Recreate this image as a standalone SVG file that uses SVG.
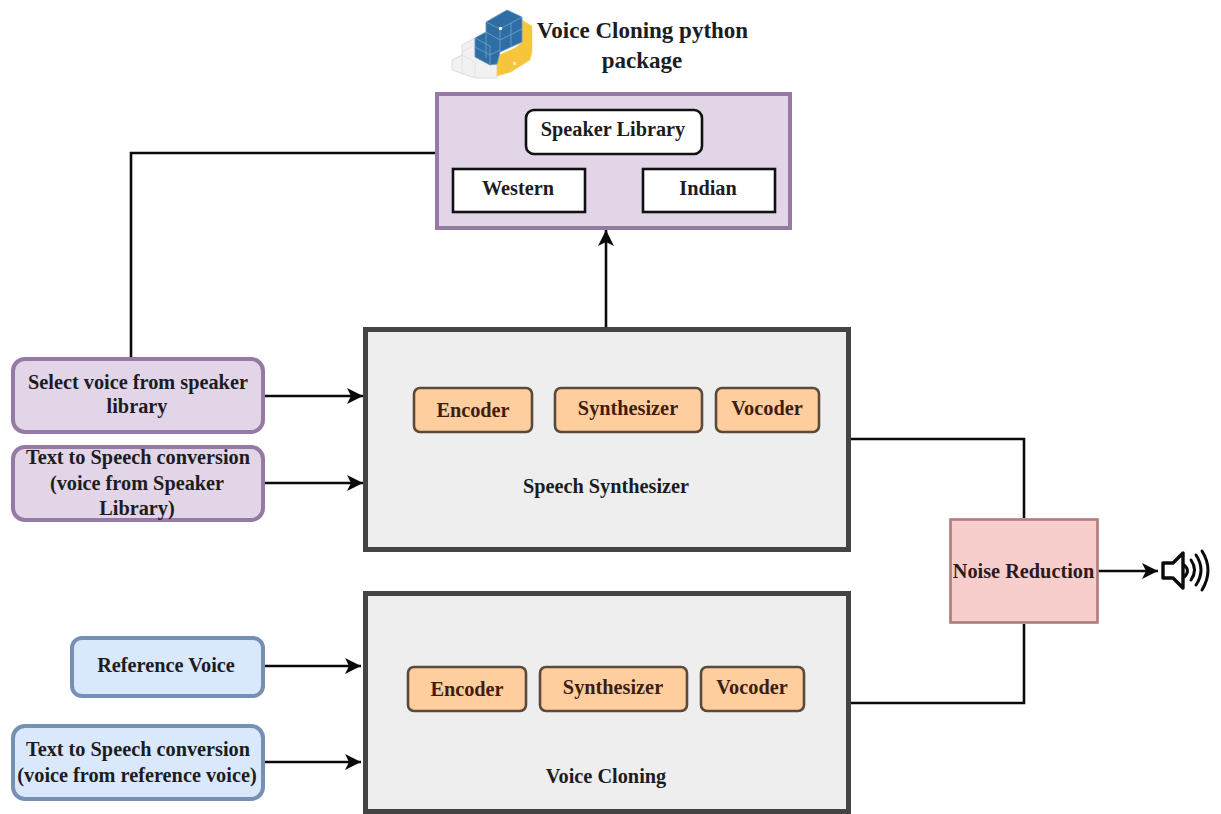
<svg xmlns="http://www.w3.org/2000/svg" width="1221" height="814" viewBox="0 0 1221 814">
<style>
text{font-family:"Liberation Serif","Times New Roman",serif;font-weight:bold;font-size:20.3px;fill:#1c1c22;text-anchor:middle}
.conn{fill:none;stroke:#0a0a0a;stroke-width:2.6}
.purple{fill:#e1d5e7;stroke:#957aa5;stroke-width:4}
.blue{fill:#dae8fc;stroke:#7590b2;stroke-width:4}
.box{fill:#eeeeee;stroke:#444444;stroke-width:5}
.block{fill:#ffce9f;stroke:#5a4a3a;stroke-width:2.6}
.white{fill:#ffffff;stroke:#111111;stroke-width:2.6}
.org{fill:#3f1d10}
.g{fill:#f1f1f1;stroke:#dcdcdc;stroke-width:1}
.b{fill:#2f6ea5;stroke:#5f97c0;stroke-width:.8}
.bl{fill:none;stroke:#6fa3c9;stroke-width:.8}
.y{fill:#f5c63c;stroke:#f5d36a;stroke-width:.6}
</style>
<defs>
<marker id="arrow" markerUnits="userSpaceOnUse" markerWidth="20" markerHeight="20" refX="17" refY="10" orient="auto">
<path d="M1 2 L17 10 L1 18 L5 10 Z" fill="#0a0a0a"/>
</marker>
</defs>
<rect width="1221" height="814" fill="#ffffff"/>
<g id="connectors">
<path class="conn" d="M437 153H131V357"/>
<path class="conn" d="M606 327V230" marker-end="url(#arrow)"/>
<path class="conn" d="M264 396H363" marker-end="url(#arrow)"/>
<path class="conn" d="M264 483H363" marker-end="url(#arrow)"/>
<path class="conn" d="M264 666H361" marker-end="url(#arrow)"/>
<path class="conn" d="M264 762H361" marker-end="url(#arrow)"/>
<path class="conn" d="M851 439H1024V518"/>
<path class="conn" d="M851 703H1024V624"/>
<path class="conn" d="M1098 571H1158" marker-end="url(#arrow)"/>
</g>
<g id="python-logo">
<polygon class="g" points="452,60 462,55 462,45 475,38 475,57 497,65 497,78 475,78 452,70"/>
<path class="bl" style="stroke:#e0e0e0" d="M462 55V75M462 55L475 62V78M475 45L462 52"/>
<polygon class="y" points="522,20 532,26 532,52 530,60 511,72 497,76 497,56 515,48 522,42"/>
<polygon class="b" points="486,22 507,10 522,17 522,42 500,52 497,64 490,65 475,57 475,38 486,32"/>
<path class="bl" d="M486 22L500 29V52M500 29L522 17M511 23V46M486 32V58M475 38L490 46V65M475 47L490 55L500 50M486 32L500 40L522 29"/>
<rect x="499" y="27" width="3" height="3" fill="#e8f2f8"/>
<rect x="513" y="62" width="3" height="3" fill="#fbeeb5"/>
</g>
<g id="title">
<text x="642.500" y="38" style="font-size:23px">Voice Cloning python</text>
<text x="642" y="68" style="font-size:23px">package</text>
</g>
<g id="speaker-library">
<rect class="purple" x="437" y="94" width="353" height="134"/>
<rect class="white" x="526" y="110" width="176" height="44" rx="8"/>
<text x="613" y="136">Speaker Library</text>
</g>
<g id="western">
<rect class="white" x="453" y="169" width="132" height="43"/>
<text x="518" y="195">Western</text>
</g>
<g id="indian">
<rect class="white" x="643" y="169" width="132" height="43"/>
<text x="708" y="195">Indian</text>
</g>
<g id="select-voice">
<rect class="purple" x="13" y="359" width="250" height="73" rx="12"/>
<text x="138" y="389">Select voice from speaker</text>
<text x="137" y="413">library</text>
</g>
<g id="tts-speaker">
<rect class="purple" x="13" y="447" width="250" height="73" rx="12"/>
<text x="138" y="464">Text to Speech conversion</text>
<text x="137" y="490">(voice from Speaker</text>
<text x="137" y="515">Library)</text>
</g>
<g id="reference-voice">
<rect class="blue" x="72" y="638" width="191" height="58" rx="10"/>
<text x="166" y="672">Reference Voice</text>
</g>
<g id="tts-reference">
<rect class="blue" x="13" y="726" width="250" height="73" rx="12"/>
<text x="138" y="756">Text to Speech conversion</text>
<text x="137" y="782">(voice from reference voice)</text>
</g>
<g id="speech-synthesizer">
<rect class="box" x="365.500" y="329.500" width="483" height="220"/>
<text x="606" y="493">Speech Synthesizer</text>
</g>
<g id="s-encoder">
<rect class="block" x="414" y="388" width="118" height="44" rx="6"/>
<text class="org" x="473" y="417">Encoder</text>
</g>
<g id="s-synthesizer">
<rect class="block" x="555" y="388" width="147" height="44" rx="6"/>
<text class="org" x="628" y="415">Synthesizer</text>
</g>
<g id="s-vocoder">
<rect class="block" x="716" y="388" width="103" height="44" rx="6"/>
<text class="org" x="767" y="415">Vocoder</text>
</g>
<g id="voice-cloning">
<rect class="box" x="365.500" y="593.500" width="483" height="218"/>
<text x="606" y="783">Voice Cloning</text>
</g>
<g id="c-encoder">
<rect class="block" x="408" y="667" width="118" height="44" rx="6"/>
<text class="org" x="467" y="696">Encoder</text>
</g>
<g id="c-synthesizer">
<rect class="block" x="540" y="667" width="147" height="44" rx="6"/>
<text class="org" x="613" y="694">Synthesizer</text>
</g>
<g id="c-vocoder">
<rect class="block" x="701" y="667" width="103" height="44" rx="6"/>
<text class="org" x="752" y="694">Vocoder</text>
</g>
<g id="noise-reduction">
<rect x="950.500" y="519.500" width="147" height="103" fill="#f8cecc" stroke="#ae7c7a" stroke-width="2.600"/>
<text x="1023.500" y="578" style="fill:#2a1a1c">Noise Reduction</text>
</g>
<g id="speaker-icon" fill="none" stroke="#0a0a0a" stroke-width="3" stroke-linecap="round" stroke-linejoin="round">
<path d="M1163 563H1173L1183 553V588L1173 578H1163Z" stroke-width="3.400"/>
<path d="M1184 565Q1191 571 1184 577"/>
<path d="M1191 560Q1198 570 1191 580"/>
<path d="M1196 555Q1206 570 1196 585"/>
<path d="M1202 551Q1214 570 1202 590"/>
</g>
</svg>
